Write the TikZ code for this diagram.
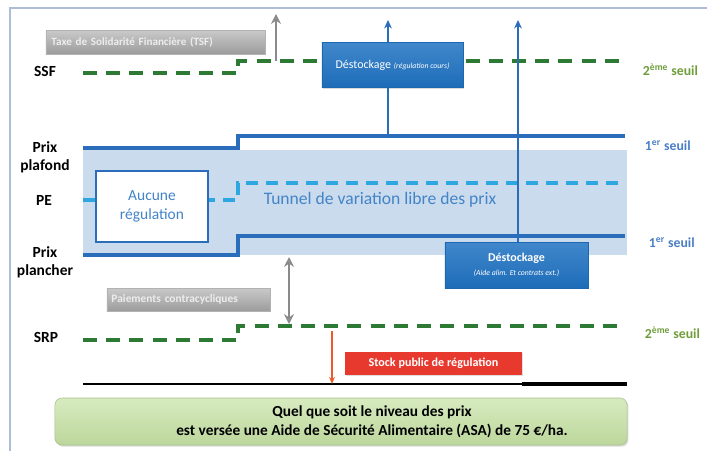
\documentclass[tikz,border=0pt]{standalone}
\usepackage{fontspec}
\setmainfont{Carlito}
\usetikzlibrary{arrows.meta,shadows}

\definecolor{cadrebleu}{HTML}{AFBCD8}
\definecolor{vertfonce}{HTML}{2C7A33}
\definecolor{vertseuil}{HTML}{6E9D3A}
\definecolor{bleuprix}{HTML}{2A6DBA}
\definecolor{bleupe}{HTML}{2EA7E0}
\definecolor{bleututunnel}{HTML}{CBDBEE}
\definecolor{bleuseuil}{HTML}{4A7EC7}
\definecolor{bleutexte}{HTML}{4284C7}
\definecolor{bleuboite}{HTML}{1F72C2}
\definecolor{rougestock}{HTML}{E8392E}
\definecolor{rougefleche}{HTML}{F05A28}
\definecolor{vertasa}{HTML}{C6E2A4}
\definecolor{grisfleche}{HTML}{8A8A8D}

\tikzset{
  etiquette/.style={font=\fontsize{11}{13}\selectfont\bfseries, align=center},
  seuil2/.style={anchor=west, text=vertseuil, font=\fontsize{9.8}{12}\selectfont\bfseries},
  seuil1/.style={anchor=west, text=bleuseuil, font=\fontsize{9.8}{12}\selectfont\bfseries},
  vertpt/.style={draw=vertfonce, line width=2.6pt, dash pattern=on 0.35cm off 0.23cm},
  prix/.style={draw=bleuprix, line width=2.4pt},
  pe/.style={draw=bleupe, line width=2.4pt, dash pattern=on 0.3cm off 0.2cm},
  grisbox/.style={rectangle, top color=gray!42, bottom color=gray!78,
    draw=gray!60, text=white!93!black, inner sep=0pt,
    drop shadow={opacity=0.3, shadow xshift=0.6pt, shadow yshift=-0.8pt}},
  bleubox/.style={rectangle, top color=bleuboite!85!white, bottom color=bleuboite!95!black,
    draw=bleuboite!90!black, text=white, align=center, inner sep=0pt,
    drop shadow={opacity=0.3, shadow xshift=0.8pt, shadow yshift=-1pt}},
  flechebleue/.style={draw=bleuprix, line width=1.6pt, -{Stealth[length=6pt, width=5.5pt]}},
}

\begin{document}
\begin{tikzpicture}[x=0.025cm, y=-0.025cm]
\useasboundingbox (0,0) rectangle (707,450);

\fill[bleututunnel] (83,150) rectangle (627,255);
\draw[cadrebleu, line width=1.1pt] (10,452) -- (10,8) -- (708,8);

\draw[vertpt] (83,73) -- (238,73) -- (238,61) -- (622,61);
\draw[prix] (83,148) -- (238,148) -- (238,136) -- (625,136);
\draw[pe] (83,200) -- (238,200) -- (238,183) -- (625,183);
\draw[prix] (83,255) -- (238,255) -- (238,236) -- (625,236);
\draw[vertpt] (83,340) -- (238,340) -- (238,326) -- (622,326);
\draw[black, line width=1.4pt] (83,384) -- (627,384);
\draw[black, line width=2.4pt] (522,384) -- (627,384);

\node[etiquette] (ssf) at (45,71) {SSF};
\node[etiquette] (plafond) at (45,157) {Prix\\plafond};
\node[etiquette] (pe) at (44,200) {PE};
\node[etiquette] (plancher) at (45,262) {Prix\\plancher};
\node[etiquette] (srp) at (46,337) {SRP};

\node[seuil2] (s1) at (638,70) {2\textsuperscript{ème} seuil};
\node[seuil1] (s2) at (640,146) {1\textsuperscript{er} seuil};
\node[seuil1] (s3) at (644,243) {1\textsuperscript{er} seuil};
\node[seuil2] (s4) at (640,333) {2\textsuperscript{ème} seuil};

\node[grisbox, minimum width=5.475cm, minimum height=0.6cm, text width=5.2cm, align=left,
  font=\fontsize{7.9}{9}\selectfont\bfseries] (1) at (155.5,42) {Taxe de Solidarité Financière (TSF)};
\node[bleubox, minimum width=3.525cm, minimum height=1.125cm] (2) at (392.5,65)
  {\fontsize{8.5}{10}\selectfont Déstockage {\fontsize{5.5}{7}\selectfont\itshape (régulation cours)}};
\node[draw=bleuprix, line width=1.5pt, fill=white, minimum width=2.8cm, minimum height=1.775cm,
  text=bleutexte, align=center, font=\fontsize{11}{14}\selectfont] (3) at (152,206.5) {Aucune\\régulation};
\node[text=bleutexte, font=\fontsize{12.5}{15}\selectfont] (tunnel) at (380,200) {Tunnel de variation libre des prix};
\node[bleubox, minimum width=3.575cm, minimum height=1.15cm] (4) at (516.5,265)
  {\fontsize{8.5}{9}\selectfont\bfseries Déstockage\\[-2pt]{\fontsize{5.5}{7}\selectfont\mdseries\itshape (Aide alim. Et contrats ext.)}};
\node[grisbox, minimum width=4.075cm, minimum height=0.575cm, text width=3.85cm, align=left,
  font=\fontsize{8.1}{9}\selectfont\bfseries] (5) at (188.5,299.5) {Paiements contracycliques};
\node[rectangle, fill=rougestock, text=white, minimum width=4.425cm, minimum height=0.575cm,
  font=\fontsize{8.6}{10}\selectfont\bfseries,
  drop shadow={opacity=0.25, shadow xshift=0.6pt, shadow yshift=-0.8pt}] (6) at (433.5,363.5) {Stock public de régulation};
\node[rectangle, rounded corners=5pt, top color=vertasa!70!white, bottom color=vertasa!95!black,
  draw=vertasa!85!black, minimum width=14.3cm, minimum height=1.175cm,
  drop shadow={opacity=0.3, shadow xshift=1pt, shadow yshift=-1.2pt}] (7) at (341,421.5) {};
\node[align=center, font=\fontsize{10.9}{13.5}\selectfont\bfseries] (asa) at (372,421.5)
  {Quel que soit le niveau des prix\\est versée une Aide de Sécurité Alimentaire (ASA) de 75 €/ha.};

\coordinate (tsf1) at (276,61);
\coordinate (tsf2) at (276,14);
\coordinate (pl1) at (388,136);
\coordinate (pl2) at (388,20);
\coordinate (st1) at (518,20);
\coordinate (pc1) at (289,257);
\coordinate (pc2) at (289,324);
\coordinate (rg1) at (332,331);
\coordinate (rg2) at (332,384);
\draw[grisfleche, line width=1.4pt, -{Stealth[length=7pt, width=7pt, open]}] (tsf1) -- (tsf2);
\draw[bleuprix, line width=1.6pt] (pl1) -- (2.south -| pl1);
\draw[flechebleue] (2.north -| pl1) -- (pl2);
\draw[flechebleue] (4.north -| st1) -- (st1);
\draw[grisfleche, line width=1.4pt, {Stealth[length=7pt, width=7pt, open]}-{Stealth[length=7pt, width=7pt, open]}] (pc1) -- (pc2);
\draw[rougefleche, line width=0.8pt, -{Stealth[length=5pt, width=4pt]}] (rg1) -- (rg2);
\end{tikzpicture}
\end{document}
